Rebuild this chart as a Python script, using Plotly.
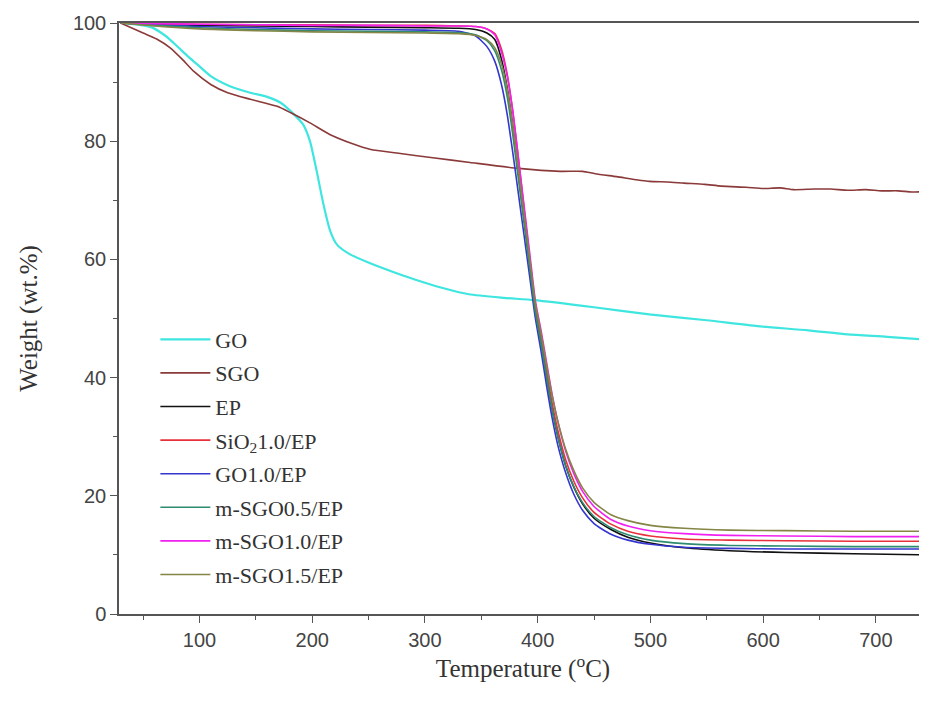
import plotly.graph_objects as go

# -------------------------------
# TGA data
# -------------------------------
go_temp = [30, 45, 57, 70, 80, 90, 98, 110, 127, 145, 160, 172, 184, 192, 198, 204, 210, 216,
           222, 234, 252, 270, 291, 315, 339, 370, 397, 450, 499, 550, 595, 640, 675, 710, 745]
go_wt = [100, 99.7, 99.3, 97.8, 96.1, 94.3, 93.0, 91.0, 89.3, 88.2, 87.5, 86.5, 84.5, 82.8, 80.0,
         74.9, 69.3, 64.8, 62.5, 60.8, 59.3, 58.0, 56.6, 55.2, 54.1, 53.5, 53.1, 51.9, 50.7, 49.7,
         48.7, 48.0, 47.3, 46.9, 46.4]

sgo_temp = [30, 50, 62, 74, 85, 95, 110, 125, 145, 169, 181, 198, 216, 234, 252, 275, 307, 340,
            383, 420, 440, 451, 470, 499, 515, 530, 548, 563, 585, 600, 615, 627, 645, 660, 675,
            691, 705, 720, 732, 745]
sgo_wt = [100, 98.3, 97.3, 95.8, 93.8, 91.8, 89.6, 88.2, 87.1, 85.9, 84.8, 83.1, 81.1, 79.7, 78.6,
          78.0, 77.2, 76.4, 75.4, 74.9, 74.9, 74.5, 74.0, 73.2, 73.1, 72.9, 72.7, 72.4, 72.2, 72.0,
          72.1, 71.8, 71.9, 71.9, 71.7, 71.8, 71.6, 71.6, 71.4, 71.5]

ep_temp = [30, 60, 100, 150, 200, 250, 300, 330, 345, 355, 362, 368, 373, 378, 383, 388, 393,
           398, 403, 408, 413, 418, 425, 432, 440, 450, 465, 480, 500, 530, 570, 620, 680, 745]
ep_wt = [100, 99.8, 99.6, 99.5, 99.4, 99.3, 99.2, 99.1, 98.9, 98.3, 97.2, 93.8, 89.0, 82.5, 74.8,
         67.0, 59.0, 51.0, 46.0, 40.0, 34.5, 30.0, 25.0, 21.5, 18.6, 16.2, 14.3, 13.0, 12.0, 11.2,
         10.7, 10.4, 10.2, 10.0]
sio2_wt = [100, 99.9, 99.8, 99.7, 99.7, 99.6, 99.6, 99.5, 99.4, 99.0, 98.2, 95.5, 91.3, 85.0,
           77.0, 68.5, 60.0, 52.0, 46.8, 41.0, 35.5, 31.0, 26.0, 22.5, 19.6, 17.2, 15.2, 14.0,
           13.2, 12.7, 12.5, 12.4, 12.3, 12.3]
go_ep_wt = [100, 99.7, 99.4, 99.2, 99.0, 98.9, 98.8, 98.6, 97.8, 96.0, 93.5, 89.5, 84.5, 78.0,
            71.0, 64.0, 57.0, 50.0, 44.5, 38.5, 33.0, 28.5, 23.8, 20.3, 17.5, 15.3, 13.5, 12.5,
            11.8, 11.3, 11.1, 11.0, 11.0, 11.0]
msgo05_wt = [100, 99.6, 99.2, 98.9, 98.7, 98.6, 98.5, 98.4, 98.0, 97.0, 95.3, 92.0, 87.5, 81.0,
             73.5, 66.0, 58.5, 51.0, 45.8, 40.0, 34.5, 30.0, 25.0, 21.6, 18.8, 16.5, 14.6, 13.4,
             12.5, 11.9, 11.6, 11.5, 11.4, 11.4]
msgo10_wt = [100, 99.9, 99.8, 99.7, 99.6, 99.6, 99.5, 99.5, 99.4, 99.0, 98.0, 95.0, 91.0, 85.0,
             77.0, 69.0, 61.0, 53.0, 48.0, 42.5, 37.0, 32.5, 27.5, 23.8, 20.7, 18.2, 16.0, 14.9,
             14.1, 13.6, 13.3, 13.2, 13.1, 13.1]
msgo15_wt = [100, 99.5, 99.0, 98.7, 98.5, 98.4, 98.3, 98.2, 97.9, 97.2, 95.8, 93.0, 88.8, 82.5,
             75.0, 67.5, 60.0, 52.5, 47.5, 42.0, 36.8, 32.5, 27.8, 24.3, 21.3, 18.9, 16.8, 15.8,
             15.0, 14.5, 14.2, 14.1, 14.0, 14.0]

x_ticks = [100, 200, 300, 400, 500, 600, 700]
y_ticks = [0, 20, 40, 60, 80, 100]

series = [
    ("GO", go_temp, go_wt, "#3FE6E0", 2.2),
    ("SGO", sgo_temp, sgo_wt, "#8B3A3A", 1.6),
    ("EP", ep_temp, ep_wt, "#111111", 1.6),
    ("SiO<sub>2</sub>1.0/EP", ep_temp, sio2_wt, "#E8303A", 1.6),
    ("GO1.0/EP", ep_temp, go_ep_wt, "#3535D0", 1.6),
    ("m-SGO0.5/EP", ep_temp, msgo05_wt, "#2E8B70", 1.6),
    ("m-SGO1.0/EP", ep_temp, msgo10_wt, "#F020F0", 1.6),
    ("m-SGO1.5/EP", ep_temp, msgo15_wt, "#858545", 1.6),
]

fig = go.Figure()
for i, (name, t, w, color, width) in enumerate(series):
    fig.add_trace(go.Scatter(x=t, y=w, mode="lines", name=name, legendgroup=str(i),
                             line=dict(color=color, width=width, shape="spline", smoothing=0.6)))

axis_font = dict(family="Liberation Sans, Arial", size=20, color="#444")
title_font = dict(family="Liberation Serif, Times New Roman", size=25, color="#333")

# page body has an 8px margin, so the figure is sized to fit inside 927x704
fig.update_layout(
    width=919, height=696,
    margin=dict(l=111, r=0, t=15, b=90),
    plot_bgcolor="white", paper_bgcolor="white",
    legend=dict(x=0.045, y=0.5, xanchor="left", yanchor="top", bgcolor="rgba(0,0,0,0)",
                font=dict(family="Liberation Serif, Times New Roman", size=22, color="#333"),
                tracegroupgap=2, itemwidth=50),
)
fig.update_xaxes(
    range=[28.6, 745.4], tickvals=x_ticks, showgrid=False, zeroline=False,
    showline=True, linecolor="#555", linewidth=1.5, mirror=True,
    ticks="outside", ticklen=7, tickcolor="#555", tickfont=axis_font,
    minor=dict(dtick=50, tick0=0, ticks="outside", ticklen=4, tickcolor="#555"),
    title=dict(text="Temperature (<sup>o</sup>C)", font=title_font, standoff=6),
)
fig.update_yaxes(
    range=[0, 100], tickvals=y_ticks, showgrid=False, zeroline=False,
    showline=True, linecolor="#555", linewidth=1.5,
    ticks="outside", ticklen=7, tickcolor="#555", tickfont=axis_font,
    minor=dict(dtick=10, tick0=0, ticks="outside", ticklen=4, tickcolor="#555"),
    title=dict(text="Weight (wt.%)", font=title_font, standoff=28),
)

fig.write_html("out.html")
